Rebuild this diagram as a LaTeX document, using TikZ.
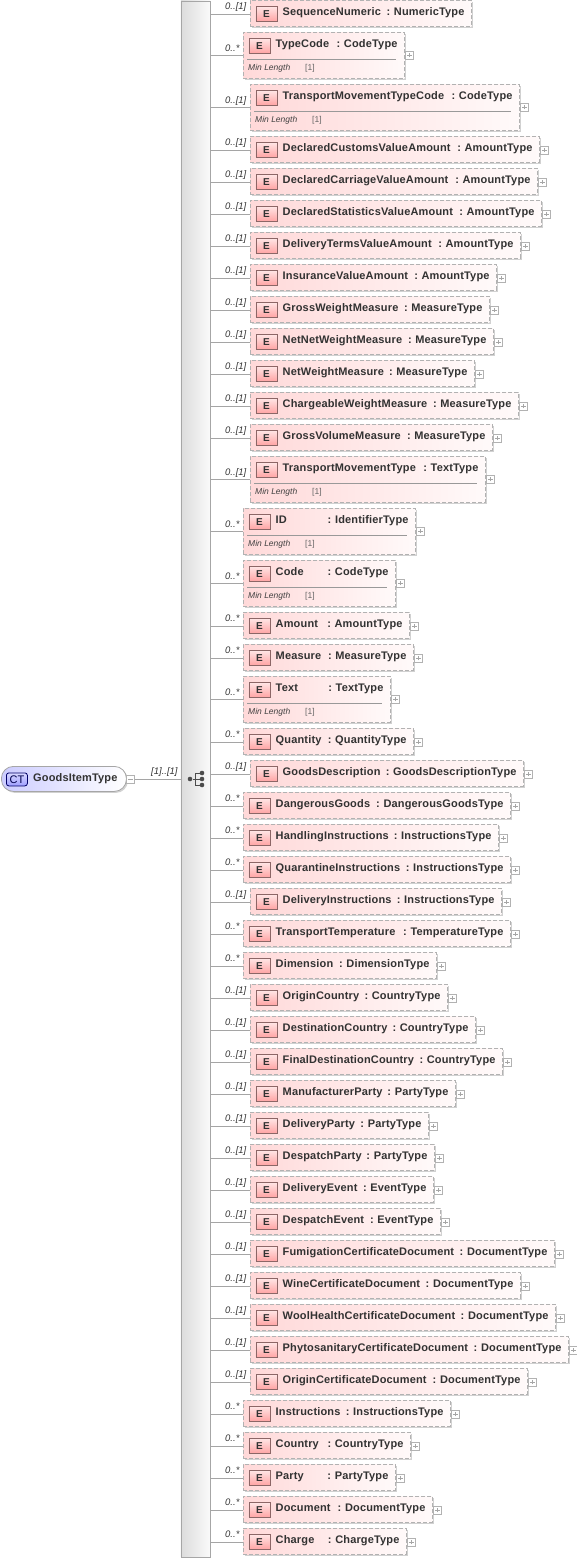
\documentclass[tikz,border=0pt]{standalone}
\usepackage{fontspec}
\setmainfont{Liberation Sans}
\newfontfamily\boldlab[LetterSpace=1.5]{Liberation Sans Bold}
\usetikzlibrary{shadows}
\definecolor{txt}{RGB}{50,50,50}
\definecolor{dash}{RGB}{178,178,178}
\definecolor{conn}{RGB}{165,165,165}
\tikzset{
 x=1pt,y=-1pt,
 boxshadow/.style={drop shadow={shadow xshift=1.5pt,shadow yshift=-1.5pt,fill=black,opacity=.18}},
 elembox/.style={draw=dash,dash pattern=on 4pt off 2pt,line width=.8pt,left color=red!15!white,right color=red!2!white,inner sep=0pt,anchor=north west,boxshadow},
 eicon/.style={draw=red!25!black!60,line width=.7pt,top color=red!10!white,bottom color=red!35!white,minimum width=21pt,minimum height=14.5pt,inner sep=0pt,anchor=north west,text=txt,font=\fontsize{10}{10}\selectfont\bfseries},
 namelab/.style={inner sep=0pt,anchor=base west,text=txt,font=\fontsize{11}{11}\boldlab},
 typelab/.style={inner sep=0pt,anchor=base east,text=txt,font=\fontsize{11}{11}\boldlab},
 multlab/.style={inner sep=0pt,anchor=base west,text=black!80,font=\fontsize{9.5}{9.5}\selectfont\itshape},
 minlab/.style={inner sep=0pt,anchor=base west,text=black!75,font=\fontsize{8.5}{8.5}\selectfont\itshape},
 minval/.style={inner sep=0pt,anchor=base west,text=black!60,font=\fontsize{8.5}{8.5}\selectfont},
 plusbox/.style={draw=black!30,fill=white,line width=.6pt,minimum size=8pt,inner sep=0pt,anchor=west},
 signbar/.style={draw=black!35,line width=.6pt},
 connector/.style={draw=conn,line width=.7pt},
 seqdot/.style={circle,fill=black!70,inner sep=0pt,minimum size=4.6pt},
 seqline/.style={draw=black!70,line width=.8pt},
}
\begin{document}
\begin{tikzpicture}
\useasboundingbox (0,0) rectangle (577,1561);
% compositor bar
\node[draw=black!35,line width=.7pt,left color=black!14,right color=black!2,minimum width=29pt,minimum height=1556pt,inner sep=0pt,anchor=north west,boxshadow] (bar) at (180.5,0.5) {};
% root
\node[draw=black!35,line width=.8pt,left color=blue!20!white,right color=white,rounded corners=12pt,minimum width=125pt,minimum height=25pt,inner sep=0pt,anchor=north west,boxshadow] (root) at (1,766) {};
\node[draw=black!60!blue,line width=.8pt,top color=blue!15!white,bottom color=blue!38!white,rounded corners=2.5pt,minimum width=21pt,minimum height=13pt,inner sep=0pt,anchor=north west,text=black!70!blue,font=\fontsize{11}{11}\selectfont] (ct) at (6,772.5) {CT};
\node[namelab] (rootname) at (33,781) {GoodsItemType};
\node[plusbox] (rootminus) at (126,779) {};
\draw[signbar] ([xshift=2pt]rootminus.west) -- ([xshift=-2pt]rootminus.east);
\node[multlab,anchor=base west] (rootmult) at (151,774) {[1]..[1]};
\draw[connector] (rootminus.east) -- (rootminus.east -| bar.west);
% sequence symbol
\node[seqdot] (sq0) at (190,779) {};
\node[seqdot] (sq1) at (202,773) {};
\node[seqdot] (sq2) at (202,779) {};
\node[seqdot] (sq3) at (202,785) {};
\draw[seqline] (sq0) -- (sq2);
\draw[seqline] (sq1) -| (195,785) -- (sq3);
% elements: top/left/right/hasMin/name/type
\foreach \t/\l/\r/\m/\n/\ty [count=\i] in {
0/250/471/0/SequenceNumeric/NumericType,
32/243/404/1/TypeCode/CodeType,
84/250/519/1/TransportMovementTypeCode/CodeType,
136/250/539/0/DeclaredCustomsValueAmount/AmountType,
168/250/537/0/DeclaredCarriageValueAmount/AmountType,
200/250/541/0/DeclaredStatisticsValueAmount/AmountType,
232/250/520/0/DeliveryTermsValueAmount/AmountType,
264/250/496/0/InsuranceValueAmount/AmountType,
296/250/489/0/GrossWeightMeasure/MeasureType,
328/250/493/0/NetNetWeightMeasure/MeasureType,
360/250/474/0/NetWeightMeasure/MeasureType,
392/250/518/0/ChargeableWeightMeasure/MeasureType,
424/250/492/0/GrossVolumeMeasure/MeasureType,
456/250/485/1/TransportMovementType/TextType,
508/243/415/1/ID/IdentifierType,
560/243/395/1/Code/CodeType,
612/243/409/0/Amount/AmountType,
644/243/413/0/Measure/MeasureType,
676/243/390/1/Text/TextType,
728/243/413/0/Quantity/QuantityType,
760/250/523/0/GoodsDescription/GoodsDescriptionType,
792/243/510/0/DangerousGoods/DangerousGoodsType,
824/243/498/0/HandlingInstructions/InstructionsType,
856/243/510/0/QuarantineInstructions/InstructionsType,
888/250/501/0/DeliveryInstructions/InstructionsType,
920/243/510/0/TransportTemperature/TemperatureType,
952/243/436/0/Dimension/DimensionType,
984/250/447/0/OriginCountry/CountryType,
1016/250/475/0/DestinationCountry/CountryType,
1048/250/502/0/FinalDestinationCountry/CountryType,
1080/250/455/0/ManufacturerParty/PartyType,
1112/250/428/0/DeliveryParty/PartyType,
1144/250/434/0/DespatchParty/PartyType,
1176/250/433/0/DeliveryEvent/EventType,
1208/250/440/0/DespatchEvent/EventType,
1240/250/554/0/FumigationCertificateDocument/DocumentType,
1272/250/520/0/WineCertificateDocument/DocumentType,
1304/250/555/0/WoolHealthCertificateDocument/DocumentType,
1336/250/568/0/PhytosanitaryCertificateDocument/DocumentType,
1368/250/527/0/OriginCertificateDocument/DocumentType,
1400/243/450/0/Instructions/InstructionsType,
1432/243/410/0/Country/CountryType,
1464/243/395/0/Party/PartyType,
1496/243/432/0/Document/DocumentType,
1528/243/406/0/Charge/ChargeType} {
  \pgfmathsetmacro\w{\r-\l}
  \pgfmathsetmacro\h{\m==1 ? 46 : 26}
  \pgfmathsetmacro\cy{\t+(\m==1 ? 23 : 14)}
  \pgfmathsetmacro\my{\t+(\m==1 ? 19.2 : 9)}
  \node[elembox,minimum width=\w pt,minimum height=\h pt] (box\i) at (\l,\t) {};
  \coordinate (tap\i) at (bar.east |- 0,\cy);
  \draw[connector] (tap\i) -- (tap\i -| box\i.west);
  \ifnum\l=243 \def\mm{0..*}\else \def\mm{0..[1]}\fi
  \node[multlab] (mult\i) at (225,\my) {\mm};
  \node[eicon] (icon\i) at (\l+5.5,\t+6) {E};
  \node[namelab] (name\i) at (\l+32.5,\t+15.3) {\n};
  \node[typelab] (type\i) at (\r-6.3,\t+15.3) {:\,\,\ty};
  \ifnum\m=1
    \draw[draw=black!40,line width=.7pt] (\l+4,\t+27) -- (\r-8,\t+27);
    \node[minlab] (minl\i) at (\l+5,\t+38) {Min Length};
    \node[minval] (minv\i) at (\l+62,\t+38) {[1]};
  \fi
  \ifnum\i>1
    \node[plusbox] (plus\i) at (\r+1,\cy) {};
    \draw[signbar] ([xshift=2pt]plus\i.west) -- ([xshift=-2pt]plus\i.east);
    \draw[signbar] ([yshift=2pt]plus\i.south) -- ([yshift=-2pt]plus\i.north);
  \fi
}
\end{tikzpicture}
\end{document}
